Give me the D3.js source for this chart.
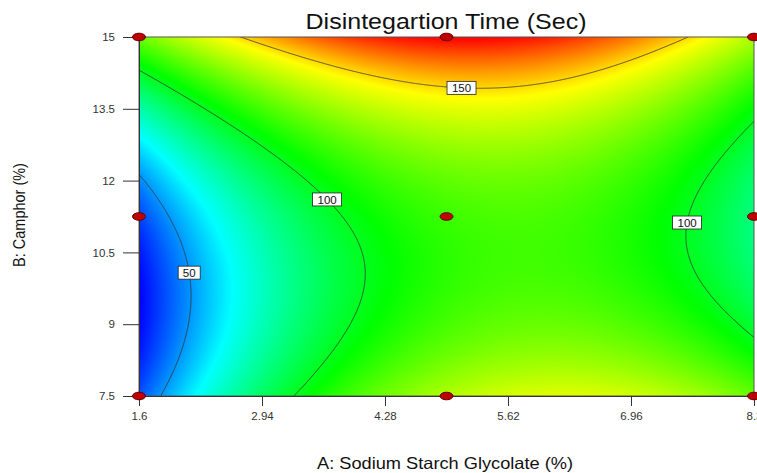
<!DOCTYPE html>
<html>
<head>
<meta charset="utf-8">
<script src="https://cdn.jsdelivr.net/npm/d3@7"></script>
<style>
    body { margin: 0; background: #fff; }
    svg { display: block; font-family: "Liberation Sans", Arial, sans-serif; }
</style>
</head>
<body>
<div class="chart"></div>
<script>
// design levels of the two factors
const aLevels = [1.6, 4.95, 8.3];
const bLevels = [7.5, 11.25, 15];

// disintegration time at each design point, rows = B (low..high), cols = A (low..high)
const dtLow = [40, 133, 121];
const dtMid = [38, 114, 85];
const dtHigh = [122, 175, 133];

const xTicks = [1.6, 2.94, 4.28, 5.62, 6.96, 8.3];
const yTicks = [7.5, 9, 10.5, 12, 13.5, 15];
const contourLevels = [50, 100, 150];

// where the contour labels sit (data units)
const labelLevels = [150, 100, 50, 100];
const labelA = [5.12, 3.69, 2.16, 7.53];
const labelB = [13.99, 11.68, 10.08, 11.13];

const width = 757, height = 473;
const margin = { top: 37, right: 3, bottom: 77, left: 139 };
const plotW = width - margin.left - margin.right;
const plotH = height - margin.top - margin.bottom;

const x = d3.scaleLinear().domain([1.6, 8.3]).range([0, plotW]);
const y = d3.scaleLinear().domain([7.5, 15]).range([plotH, 0]);

const grid = [dtLow, dtMid, dtHigh];

// quadratic response surface through the 3x3 design
function lagr(t) {
    return [t * (t - 1) / 2, 1 - t * t, t * (t + 1) / 2];
}
function surface(A, B) {
    const la = lagr((A - aLevels[1]) / (aLevels[2] - aLevels[1]));
    const lb = lagr((B - bLevels[1]) / (bLevels[2] - bLevels[1]));
    let v = 0;
    for (let j = 0; j < 3; j++)
        for (let i = 0; i < 3; i++)
            v += grid[j][i] * la[i] * lb[j];
    return v;
}

// sample on a pixel grid
const nx = Math.round(plotW), ny = Math.round(plotH);
const values = new Array(nx * ny);
for (let j = 0; j < ny; j++) {
    const B = y.invert(j * plotH / (ny - 1));
    for (let i = 0; i < nx; i++) {
        values[j * nx + i] = surface(x.invert(i * plotW / (nx - 1)), B);
    }
}
const vMin = d3.min(values), vMax = d3.max(values);

// rainbow map, yellow sits a bit high like the original
const color = d3.scaleLinear()
    .domain([0, 0.25, 0.52, 0.8, 1].map(t => vMin + t * (vMax - vMin)))
    .range(["#0000ff", "#00ffff", "#00ff00", "#ffff00", "#ff0000"])
    .clamp(true);

// heat map painted on a canvas, then put into the svg
const canvas = document.createElement("canvas");
canvas.width = nx; canvas.height = ny;
const ctx = canvas.getContext("2d");
const img = ctx.createImageData(nx, ny);
for (let k = 0; k < values.length; k++) {
    const c = d3.rgb(color(values[k]));
    img.data[4 * k] = c.r;
    img.data[4 * k + 1] = c.g;
    img.data[4 * k + 2] = c.b;
    img.data[4 * k + 3] = 255;
}
ctx.putImageData(img, 0, 0);

const svg = d3.select(".chart").append("svg")
    .attr("width", width)
    .attr("height", height);

const g = svg.append("g")
    .attr("transform", `translate(${margin.left}, ${margin.top})`);

g.append("clipPath").attr("id", "plotClip")
    .append("rect").attr("width", plotW).attr("height", plotH);

g.append("image")
    .attr("width", plotW)
    .attr("height", plotH)
    .attr("preserveAspectRatio", "none")
    .attr("href", canvas.toDataURL());

// contour lines
const sx = plotW / (nx - 1), sy = plotH / (ny - 1);
const proj = d3.geoTransform({
    point: function (px, py) { this.stream.point((px - 0.5) * sx, (py - 0.5) * sy); }
});
const path = d3.geoPath(proj);
const contours = d3.contours().size([nx, ny]).thresholds(contourLevels)(values);

g.append("g").attr("clip-path", "url(#plotClip)")
    .selectAll("path")
    .data(contours)
    .enter().append("path")
    .attr("d", path)
    .attr("fill", "none")
    .attr("stroke", "#333")
    .attr("stroke-width", 0.8);

// frame
g.append("rect")
    .attr("width", plotW).attr("height", plotH)
    .attr("fill", "none")
    .attr("stroke", "#555")
    .attr("stroke-width", 1);

// axes
const yAxis = g.append("g")
    .call(d3.axisLeft(y).tickValues(yTicks).tickSize(16).tickPadding(8).tickFormat(d3.format("")));
const xAxis = g.append("g")
    .attr("transform", `translate(0, ${plotH})`)
    .call(d3.axisBottom(x).tickValues(xTicks).tickSize(10).tickPadding(6).tickFormat(d3.format("")));
[xAxis, yAxis].forEach(ax => {
    ax.select(".domain").attr("stroke", "#333");
    ax.selectAll(".tick line").attr("stroke", "#333");
    ax.selectAll(".tick text").attr("fill", "#333").style("font-size", "11.5px")
        .style("font-family", '"Liberation Sans", Arial, sans-serif');
});

// contour labels, snapped to the nearest vertex of their line
labelLevels.forEach((lev, k) => {
    const px = x(labelA[k]), py = y(labelB[k]);
    const cont = contours.find(c => c.value === lev);
    let best = [px, py], bd = Infinity;
    cont.coordinates.forEach(poly => poly.forEach(ring => ring.forEach(p => {
        const qx = (p[0] - 0.5) * sx, qy = (p[1] - 0.5) * sy;
        const d = (qx - px) ** 2 + (qy - py) ** 2;
        if (d < bd) { bd = d; best = [qx, qy]; }
    })));
    const txt = String(lev);
    const w = txt.length * 7 + 8;
    const lg = g.append("g").attr("transform", `translate(${best[0]}, ${best[1]})`);
    lg.append("rect")
        .attr("x", -w / 2).attr("y", -6.5)
        .attr("width", w).attr("height", 13)
        .attr("fill", "#fff").attr("stroke", "#222").attr("stroke-width", 0.8);
    lg.append("text")
        .attr("text-anchor", "middle").attr("y", 4.5)
        .style("font-size", "11.5px").attr("fill", "#111")
        .text(txt);
});

// design points
const designPts = [];
bLevels.forEach(b => aLevels.forEach(a => designPts.push([a, b])));
g.append("g").selectAll("ellipse")
    .data(designPts)
    .enter().append("ellipse")
    .attr("cx", d => x(d[0]))
    .attr("cy", d => y(d[1]))
    .attr("rx", 6.5).attr("ry", 3.8)
    .attr("fill", "#c00000")
    .attr("stroke", "#5a0000").attr("stroke-width", 1);

// titles (the source image is a bit stretched sideways)
svg.append("text")
    .attr("x", 446).attr("y", 29)
    .attr("text-anchor", "middle")
    .attr("textLength", 281).attr("lengthAdjust", "spacingAndGlyphs")
    .style("font-size", "22px").attr("fill", "#111")
    .text("Disintegartion Time (Sec)");

svg.append("text")
    .attr("x", 445).attr("y", 469)
    .attr("text-anchor", "middle")
    .attr("textLength", 256).attr("lengthAdjust", "spacingAndGlyphs")
    .style("font-size", "16.5px").attr("fill", "#111")
    .text("A: Sodium Starch Glycolate (%)");

svg.append("text")
    .attr("transform", "translate(25, 215) scale(1.2, 1) rotate(-90)")
    .attr("text-anchor", "middle")
    .style("font-size", "14.5px").attr("fill", "#111")
    .text("B: Camphor (%)");
</script>
</body>
</html>
